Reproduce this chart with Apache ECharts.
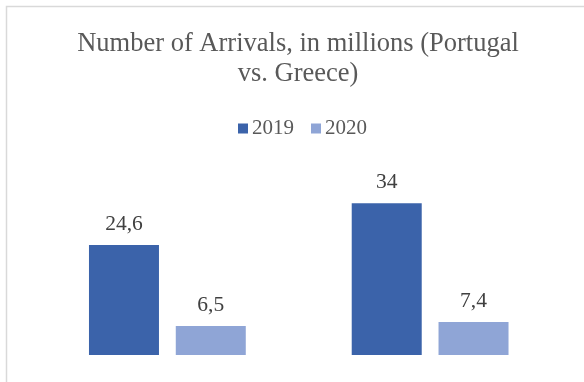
<!DOCTYPE html>
<html>
<head>
<meta charset="utf-8">
<script src="https://cdn.jsdelivr.net/npm/echarts@6/dist/echarts.min.js"></script>
<style>html,body{margin:0;padding:0;background:#fff}#c{width:584px;height:382px}</style>
</head>
<body>
<div id="c"></div>
<script>
const categories = ['Portugal', 'Greece'];
const seriesNames = ['2019', '2020'];
const values2019 = [24.6, 34];
const values2020 = [6.5, 7.4];
const titleLines = ['Number of Arrivals, in millions (Portugal', 'vs. Greece)'];

const chart = echarts.init(document.getElementById('c'), null, {renderer: 'canvas'});
const FONT = '"Liberation Serif", "Times New Roman", serif';
const fmt = p => String(p.value).replace('.', ',');
chart.setOption({
  animation: false,
  backgroundColor: '#fff',
  graphic: [
    {type: 'rect', shape: {x: 6.5, y: 6.5, width: 800, height: 600}, style: {fill: null, stroke: '#D9D9D9', lineWidth: 1.5}, silent: true},
    {type: 'text', x: 298, y: 44, style: {text: titleLines[0], font: '26.5px ' + FONT, fill: '#595959', align: 'center', verticalAlign: 'middle'}},
    {type: 'text', x: 298, y: 74, style: {text: titleLines[1], font: '26.5px ' + FONT, fill: '#595959', align: 'center', verticalAlign: 'middle'}}
  ],
  legend: {
    data: seriesNames,
    left: 233, top: 113,
    icon: 'rect', itemWidth: 10, itemHeight: 10, itemGap: 17,
    textStyle: {fontFamily: FONT, fontSize: 21, color: '#595959', padding: [0, 0, 0, -1]}
  },
  grid: {left: 36, right: 22.5, top: 154, bottom: 27, containLabel: false},
  xAxis: {type: 'category', data: categories, show: false},
  yAxis: {type: 'value', min: 0, max: 45, show: false, splitLine: {show: false}},
  series: [
    {name: seriesNames[0], type: 'bar', data: values2019, barWidth: 70, barGap: '24%',
     itemStyle: {color: '#3B63AA'},
     label: {show: true, position: 'top', distance: 10, formatter: fmt, fontFamily: FONT, fontSize: 21.5, color: '#404040'}},
    {name: seriesNames[1], type: 'bar', data: values2020, barWidth: 70, barGap: '24%',
     itemStyle: {color: '#8FA5D6'},
     label: {show: true, position: 'top', distance: 10, formatter: fmt, fontFamily: FONT, fontSize: 21.5, color: '#404040'}}
  ]
});
</script>
</body>
</html>
